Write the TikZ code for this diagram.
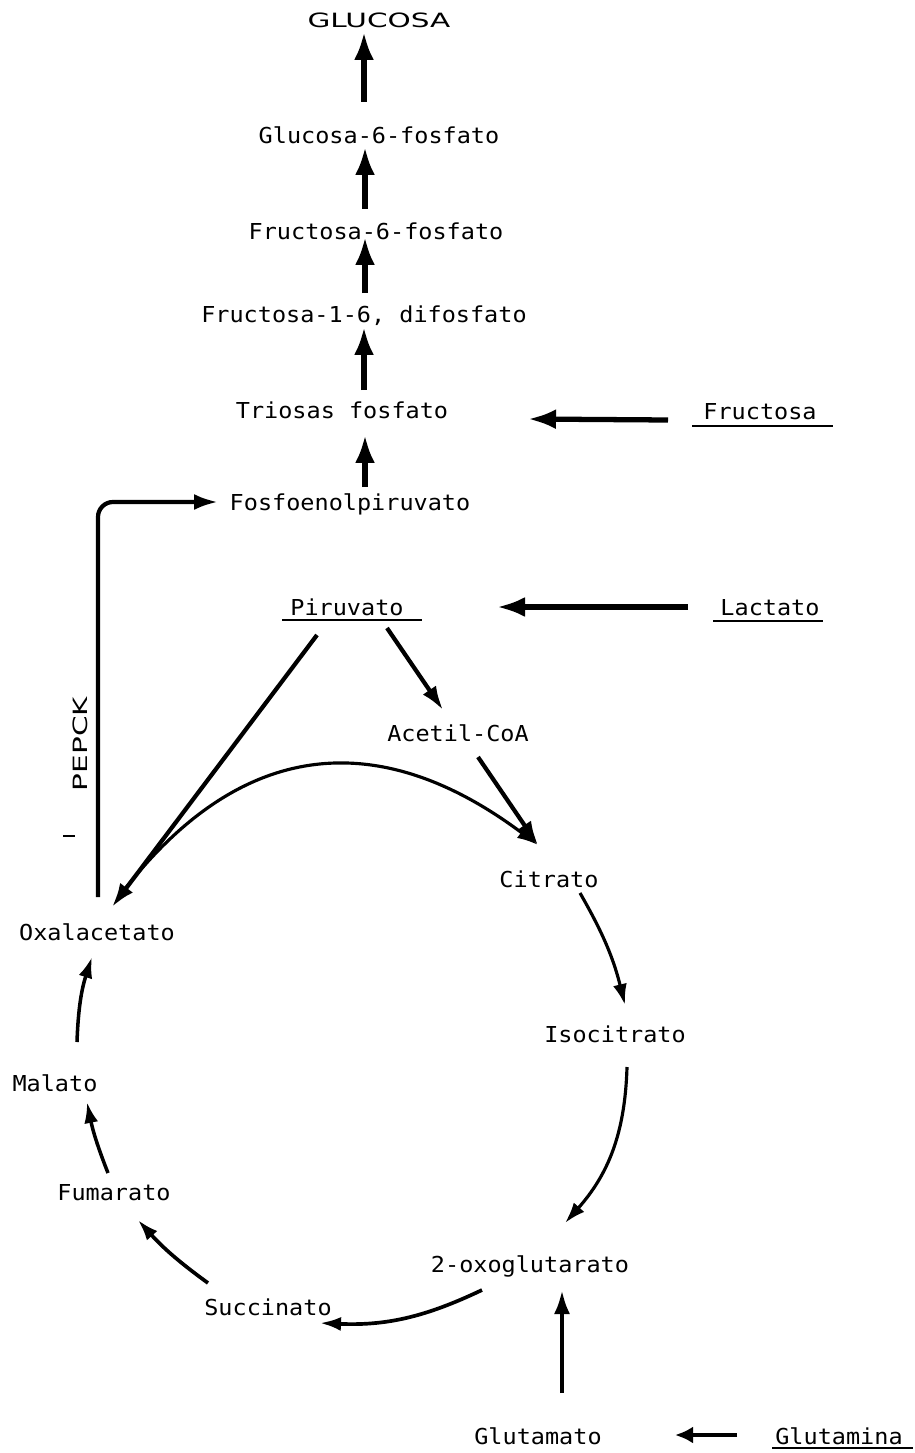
\documentclass[tikz,border=0pt]{standalone}
\usepackage{fontspec}
\usepackage{tikz}
\usetikzlibrary{arrows.meta}
\newfontfamily\labelfont[FakeStretch=1.07]{DejaVu Sans Mono}
\newfontfamily\capsfont[FakeStretch=1.5]{DejaVu Sans}
\tikzset{
  metab/.style={font=\labelfont\fontsize{12.5}{14}\selectfont,
                inner sep=0pt, text height=9.1pt, text depth=0pt},
  enzyme/.style={font=\capsfont\fontsize{11.2}{13}\selectfont,
                 inner sep=0pt, text height=8.2pt, text depth=0pt},
  underline/.style={line width=1.1pt}
}

\begin{document}
\begin{tikzpicture}[x=0.02cm, y=-0.02cm,
  big arrow/.style={line width=3pt, -{Latex[length=5.6mm,width=4mm]}},
  mid arrow/.style={line width=2.4pt, -{Latex[length=4.8mm,width=3.2mm]}},
  cycle arrow/.style={line width=1.8pt, -{Latex[length=4.2mm,width=2.8mm]}}
]
\useasboundingbox (0,0) rectangle (915,1453);

% the metabolites
\node[enzyme] (glucosa)    at (379,20)   {GLUCOSA};
\node[metab]  (g6p)        at (379,136)  {Glucosa-6-fosfato};
\node[metab]  (f6p)        at (376,232)  {Fructosa-6-fosfato};
\node[metab]  (f16bp)      at (364,315)  {Fructosa-1-6, difosfato};
\node[metab]  (triosas)    at (342,411)  {Triosas fosfato};
\node[metab]  (fructosa)   at (760,412)  {Fructosa};
\node[metab]  (pep)        at (350,503)  {Fosfoenolpiruvato};
\node[metab]  (piruvato)   at (347,607)  {Piruvato};
\node[metab]  (lactato)    at (770,607)  {Lactato};
\node[metab]  (acetil)     at (458,733)  {Acetil-CoA};
\node[metab]  (citrato)    at (549,879)  {Citrato};
\node[metab]  (isocitrato) at (615,1034) {Isocitrato};
\node[metab]  (oxo)        at (530,1264) {2-oxoglutarato};
\node[metab]  (glutamato)  at (538,1436) {Glutamato};
\node[metab]  (glutamina)  at (839,1436) {Glutamina};
\node[metab]  (succinato)  at (268,1307) {Succinato};
\node[metab]  (fumarato)   at (114,1192) {Fumarato};
\node[metab]  (malato)     at (55,1083)  {Malato};
\node[metab]  (oxal)       at (97,932)   {Oxalacetato};
\node[enzyme, rotate=90] (pepck) at (80,744) {PEPCK};

% substrates from outside are underlined
\draw[underline] ([shift={(-68,14)}]fructosa.center)  -- ([shift={(73,14)}]fructosa.center);
\draw[underline] ([shift={(-65,13)}]piruvato.center)  -- ([shift={(75,13)}]piruvato.center);
\draw[underline] ([shift={(-57,14)}]lactato.center)   -- ([shift={(53,14)}]lactato.center);
\draw[underline] ([shift={(-67,12)}]glutamina.center) -- ([shift={(74,12)}]glutamina.center);

% up to glucose
\foreach \from/\to/\fx/\fy/\tx/\ty in {g6p/glucosa/-15/-34/-15/12,
    f6p/g6p/-11/-23/-14/11, f16bp/f6p/1/-22/-11/5,
    triosas/f16bp/22/-21/0/12, pep/triosas/15/-16/23/24}
  \draw[big arrow] ([shift={(\fx,\fy)}]\from.center) -- ([shift={(\tx,\ty)}]\to.center);

\draw[big arrow] ([shift={(-92,8)}]fructosa.center)   -- ([shift={(186,8)}]triosas.center);
\draw[big arrow] ([shift={(-82,0)}]lactato.center)    -- ([shift={(150,0)}]piruvato.center);
\draw[mid arrow, -{Latex[length=3.6mm,width=3.4mm]}]
      ([shift={(-102,-1)}]glutamina.center) -- ([shift={(137,-1)}]glutamato.center);
\draw[mid arrow] ([shift={(24,-43)}]glutamato.center) -- ([shift={(32,26)}]oxo.center);

% PEPCK
\draw[mid arrow, rounded corners=0.3cm]
      ([shift={(1,-35)}]oxal.center) |- ([shift={(-132,-1)}]pep.center);
\draw[line width=1pt] (63,836) -- (75,836);

% pyruvate
\draw[mid arrow] ([shift={(-30,28)}]piruvato.center) -- ([shift={(15,-25)}]oxal.center);
\draw[mid arrow] ([shift={(40,21)}]piruvato.center)  -- ([shift={(-15,-23)}]acetil.center);
\draw[mid arrow] ([shift={(20,24)}]acetil.center)    -- ([shift={(-11,-34)}]citrato.center);

% the cycle
\draw[cycle arrow] ([shift={(21,-34)}]oxal.center)
      .. controls +(120,-160) and +(-160,-120) .. ([shift={(-11,-34)}]citrato.center);
\draw[cycle arrow] ([shift={(31,14)}]citrato.center)
      to[bend left=8] ([shift={(10,-29)}]isocitrato.center);
\draw[cycle arrow] ([shift={(12,33)}]isocitrato.center)
      to[bend left=20] ([shift={(35,-41)}]oxo.center);
\draw[cycle arrow, line width=2.1pt] ([shift={(-48,26)}]oxo.center)
      to[bend left=14] ([shift={(52,16)}]succinato.center);
\draw[cycle arrow, line width=2.1pt] ([shift={(-60,-24)}]succinato.center)
      to[bend left=6] ([shift={(24,28)}]fumarato.center);
\draw[cycle arrow, line width=2pt] ([shift={(-6,-19)}]fumarato.center)
      to[bend left=5] ([shift={(32,19)}]malato.center);
\draw[cycle arrow, line width=2pt] ([shift={(22,-41)}]malato.center)
      to[bend left=8] ([shift={(-5,25)}]oxal.center);
\end{tikzpicture}
\end{document}
